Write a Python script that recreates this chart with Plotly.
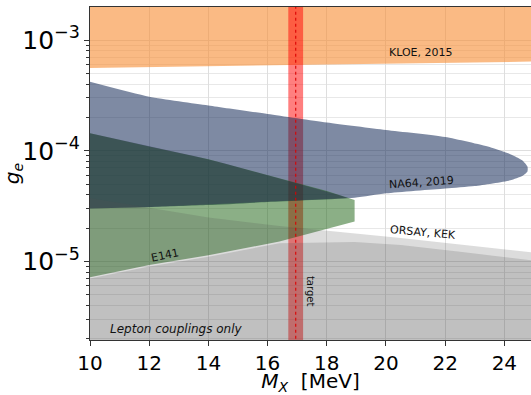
import numpy as np
import plotly.graph_objects as go

# ---------------- data ----------------
# KLOE, 2015 : excluded above lower edge
kloe_x = [10, 15, 20, 25]
kloe_lo = [5.6e-4, 5.85e-4, 6.1e-4, 6.4e-4]
kloe_hi = 1e-2

# NA64, 2019 : closed contour (upper edge left->tip, lower edge tip->left)
na64_up_x = [10, 12, 14, 16, 18, 20, 22, 23.5, 24.2, 24.6, 24.78]
na64_up_y = [4.2e-4, 3.08e-4, 2.57e-4, 2.15e-4, 1.8e-4, 1.54e-4, 1.33e-4, 1.08e-4, 9.3e-5, 8.2e-5, 7.2e-5]
na64_lo_x = [24.78, 24.6, 24.2, 23, 22, 20, 18.94, 16, 14, 12, 10]
na64_lo_y = [6.5e-5, 5.9e-5, 5.4e-5, 4.8e-5, 4.56e-5, 4.12e-5, 3.76e-5, 3.44e-5, 3.23e-5, 3.1e-5, 3.0e-5]

# E141
e141_up_x = [10, 12, 14, 16, 18, 18.94]
e141_up_y = [1.44e-4, 1.09e-4, 8.4e-5, 6.03e-5, 4.32e-5, 3.59e-5]
e141_lo_x = [18.94, 16.4, 14, 12, 10]
e141_lo_y = [2.29e-5, 1.51e-5, 1.14e-5, 9.3e-6, 7.2e-6]

# ORSAY / KEK (excluded below upper edge)
orsay_x = [10, 12, 14, 16.4, 20.5, 25]
orsay_y = [3.74e-5, 3.04e-5, 2.5e-5, 2.09e-5, 1.63e-5, 1.2e-5]
kek_x = [10, 12, 14, 16.4, 18.94, 20.5, 22.5, 25]
kek_y = [7.0e-6, 9.0e-6, 1.1e-5, 1.46e-5, 1.5e-5, 1.41e-5, 1.22e-5, 1.02e-5]
floor_y = 1e-7

# target band
band_lo, band_hi = 16.7, 17.2
target_x = 16.95

# ---------------- figure ----------------
fig = go.Figure()

def poly(xs, ys, color, name, smooth=False):
    line = dict(width=0)
    if smooth:
        line.update(shape="spline", smoothing=0.6)
    fig.add_trace(go.Scatter(x=xs, y=ys, mode="lines", fill="toself",
                             fillcolor=color, line=line,
                             hoverinfo="skip", showlegend=False, name=name))

# KLOE
poly(kloe_x + [kloe_x[-1], kloe_x[0]], kloe_lo + [kloe_hi, kloe_hi],
     "rgba(247,140,50,0.6)", "KLOE")
# target band
poly([band_lo, band_hi, band_hi, band_lo], [floor_y, floor_y, 1.0, 1.0],
     "rgba(255,0,0,0.5)", "band")
# NA64
poly(na64_up_x + na64_lo_x, na64_up_y + na64_lo_y, "rgba(20,42,88,0.55)", "NA64",
     smooth=True)
# E141
poly(e141_up_x + e141_lo_x, e141_up_y + e141_lo_y, "rgba(23,95,13,0.5)", "E141")

# overlap of E141 and NA64 (darker)
xs = np.linspace(10, 18.94, 80)
top = np.interp(xs, e141_up_x, np.log10(e141_up_y))
bot = np.interp(xs, na64_lo_x[::-1], np.log10(na64_lo_y[::-1]))
m = top > bot
ox = np.concatenate([xs[m], xs[m][::-1]])
oy = 10 ** np.concatenate([top[m], bot[m][::-1]])
poly(list(ox), list(oy), "rgba(25,10,80,0.3)", "overlap")

# ORSAY, KEK
poly(orsay_x + [orsay_x[-1], orsay_x[0]], orsay_y + [floor_y, floor_y],
     "rgba(80,82,80,0.2)", "ORSAY")
poly(kek_x + [kek_x[-1], kek_x[0]], kek_y + [floor_y, floor_y],
     "rgba(80,82,80,0.2)", "KEK")

# target dotted line
fig.add_trace(go.Scatter(x=[target_x, target_x], y=[floor_y, 1.0], mode="lines",
                         line=dict(color="rgba(220,0,0,0.9)", width=1.2, dash="dot"),
                         hoverinfo="skip", showlegend=False))

font = "DejaVu Sans"
def label(x, y, text, angle=0, size=11, italic=False):
    if italic:
        text = "<i>" + text + "</i>"
    fig.add_annotation(x=x, y=np.log10(y), text=text, showarrow=False,
                       textangle=angle, font=dict(family=font, size=size, color="#111"))

label(21.17, 7.8e-4, "KLOE, 2015")
label(21.2, 5.2e-5, "NA64, 2019", angle=-4)
label(21.25, 1.83e-5, "ORSAY, KEK", angle=5)
label(12.52, 1.14e-5, "E141", angle=-12)
label(17.47, 5.4e-6, "target", angle=90, size=10)
label(12.91, 2.44e-6, "Lepton couplings only", size=12, italic=True)

fig.update_layout(
    width=531, height=395,
    margin=dict(l=90, r=0, t=7, b=55),
    paper_bgcolor="white", plot_bgcolor="white",
    font=dict(family=font, size=20, color="black"),
    xaxis=dict(range=[10, 24.9], tickmode="linear", tick0=10, dtick=2,
               automargin=False,
               showgrid=True, gridcolor="#dedede", gridwidth=1,
               showline=True, linecolor="#333", linewidth=1.2, mirror=True,
               ticks="outside", ticklen=5, tickwidth=1.2, tickcolor="#333",
               zeroline=False,
               title=dict(text="<i>M</i><sub><i>X</i></sub>\u00a0\u00a0[MeV]",
                          font=dict(size=20), standoff=10)),
    yaxis=dict(type="log", range=[np.log10(1.95e-6), np.log10(1.99e-3)],
               dtick=1, exponentformat="power", showexponent="all",
               automargin=False,
               showgrid=True, gridcolor="#dedede", gridwidth=1,
               showline=True, linecolor="#333", linewidth=1.2, mirror=False,
               ticks="outside", ticklen=5, tickwidth=1.2, tickcolor="#333",
               zeroline=False,
               minor=dict(dtick="D1", ticks="outside", ticklen=3, tickcolor="#333",
                          showgrid=True, gridcolor="#e8e8e8"),
               title=dict(text="<i>g</i><sub><i>e</i></sub>", font=dict(size=20),
                          standoff=8)),
)

fig.write_html("out.html")
